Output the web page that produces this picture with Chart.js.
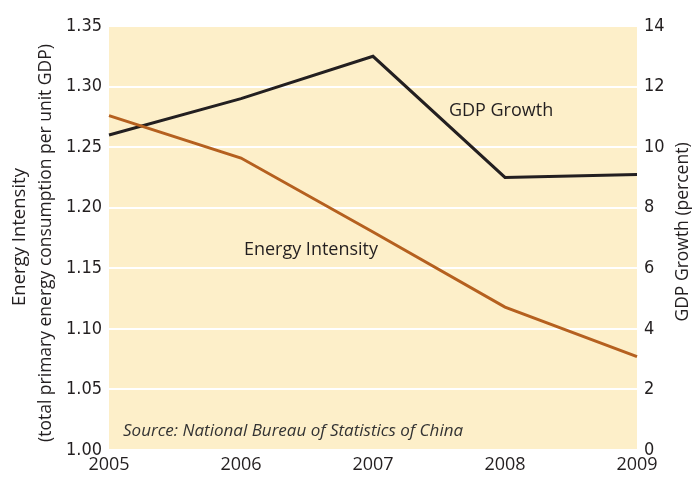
<!DOCTYPE html>
<html>
<head>
<meta charset="utf-8">
<script src="https://cdn.jsdelivr.net/npm/chart.js@4"></script>
<style>
  html, body { margin: 0; padding: 0; background: #fff; }
  #wrap { width: 692px; height: 478px; }
</style>
</head>
<body>
<div id="wrap"><canvas id="chart" width="692" height="478"></canvas></div>
<script>
const years = ['2005', '2006', '2007', '2008', '2009'];
const energyIntensity = [1.276, 1.241, 1.180, 1.118, 1.077];
const gdpGrowth = [10.4, 11.6, 13.0, 9.0, 9.1];
const leftTicks = [1.00, 1.05, 1.10, 1.15, 1.20, 1.25, 1.30, 1.35];
const rightTicks = [0, 2, 4, 6, 8, 10, 12, 14];
const leftTitle = ['Energy Intensity', '(total primary energy consumption per unit GDP)'];
const rightTitle = 'GDP Growth (percent)';

const tickFont = { family: "'Liberation Sans Narrow', 'DejaVu Sans Condensed', sans-serif", size: 18 };
const textFont = "'Open Sans', 'Noto Sans', sans-serif";
const ink = '#231f20';

// cream plot area, in-chart labels and rotated axis titles
const decor = {
    id: 'decor',
    beforeDraw(chart) {
        const { ctx, chartArea: a } = chart;
        ctx.save();
        ctx.fillStyle = '#fdefc9';
        ctx.fillRect(a.left, a.top, a.right - a.left, a.bottom - a.top);
        ctx.restore();
    },
    afterDatasetsDraw(chart) {
        const { ctx, chartArea: a, scales } = chart;
        ctx.save();
        ctx.fillStyle = ink;
        ctx.textAlign = 'center';
        ctx.textBaseline = 'middle';
        ctx.font = '18px ' + textFont;
        ctx.fillText('GDP Growth', scales.x.getPixelForValue(2.97), scales.y2.getPixelForValue(11.2));
        ctx.fillText('Energy Intensity', scales.x.getPixelForValue(1.53), scales.y.getPixelForValue(1.165));
        ctx.textAlign = 'left';
        ctx.font = 'italic 17px ' + textFont;
        ctx.fillStyle = '#333';
        ctx.fillText('Source: National Bureau of Statistics of China', a.left + 14, a.bottom - 19);

        const midY = (a.top + a.bottom) / 2 + 5;
        ctx.fillStyle = ink;
        ctx.textAlign = 'center';
        ctx.translate(20, midY);
        ctx.rotate(-Math.PI / 2);
        ctx.font = '18.5px ' + textFont;
        ctx.fillText(leftTitle[0], 6, 0);
        ctx.font = '17.5px ' + textFont;
        ctx.fillText(leftTitle[1], 0, 26);
        ctx.rotate(Math.PI / 2);
        ctx.translate(-20, -midY);
        ctx.translate(chart.width - 9, a.top + 206);
        ctx.rotate(-Math.PI / 2);
        ctx.font = '17.5px ' + textFont;
        ctx.fillText(rightTitle, 0, 0);
        ctx.restore();
    }
};

new Chart(document.getElementById('chart'), {
    type: 'line',
    data: {
        labels: years,
        datasets: [
            {
                label: 'Energy Intensity',
                data: energyIntensity,
                yAxisID: 'y',
                borderColor: '#b5601f',
                borderWidth: 3,
                pointRadius: 0,
                tension: 0
            },
            {
                label: 'GDP Growth',
                data: gdpGrowth,
                yAxisID: 'y2',
                borderColor: ink,
                borderWidth: 3,
                pointRadius: 0,
                tension: 0
            }
        ]
    },
    options: {
        responsive: false,
        animation: false,
        layout: { padding: { top: 26, left: 0, right: 0, bottom: 0 } },
        plugins: { legend: { display: false }, tooltip: { enabled: false } },
        scales: {
            x: {
                offset: false,
                grid: { display: false, drawTicks: false },
                border: { display: false },
                ticks: { color: ink, font: { family: textFont, size: 18 }, padding: 4, maxRotation: 0, autoSkip: false },
                afterFit(s) { s.height = 28; }
            },
            y: {
                position: 'left',
                min: 1.0,
                max: 1.35,
                afterBuildTicks(s) { s.ticks = leftTicks.map(v => ({ value: v })); },
                ticks: { color: ink, font: tickFont, padding: 7, callback: v => v.toFixed(2) },
                grid: { color: '#ffffff', lineWidth: 2, drawTicks: false },
                border: { display: false },
                afterFit(s) { s.width = 109; }
            },
            y2: {
                position: 'right',
                min: 0,
                max: 14,
                afterBuildTicks(s) { s.ticks = rightTicks.map(v => ({ value: v })); },
                ticks: { color: ink, font: tickFont, padding: 7 },
                grid: { display: false, drawTicks: false },
                border: { display: false },
                afterFit(s) { s.width = 55; }
            }
        }
    },
    plugins: [decor]
});
</script>
</body>
</html>
